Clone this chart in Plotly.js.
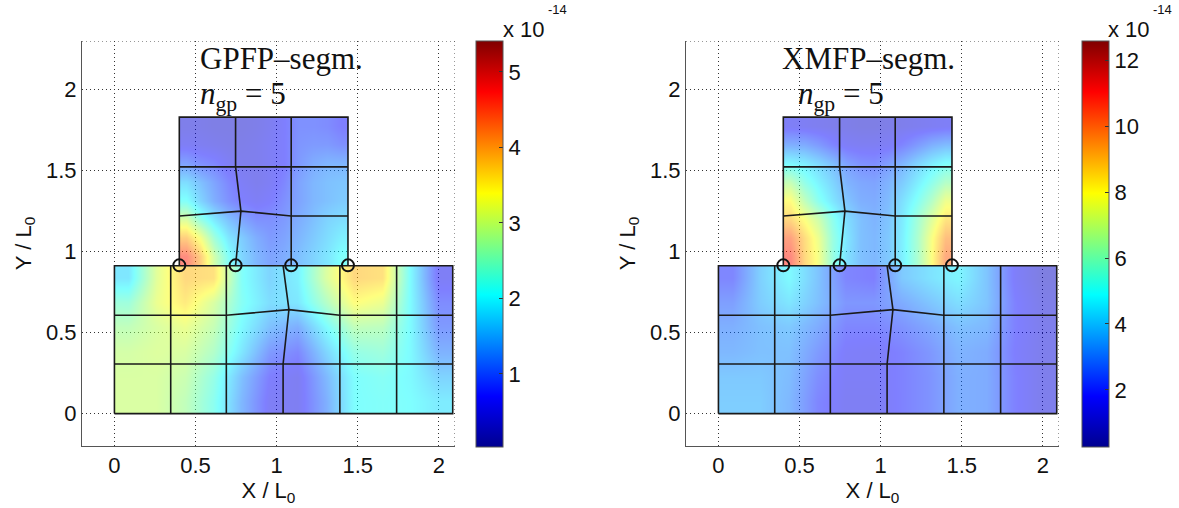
<!DOCTYPE html>
<html><head><meta charset="utf-8">
<script src="https://cdn.plot.ly/plotly-3.0.1.min.js"></script>
<style>html,body{margin:0;padding:0;background:#fff}</style></head>
<body><div id="chart" style="width:1179px;height:508px"></div>
<script>
// Cell edges of the sampled field
const lowerX = [0,0.174,0.348,0.521,0.695,0.869,1.043,1.216,1.39,1.564,1.738,1.912,2.086];
const lowerY = [0,0.152,0.305,0.457,0.61,0.762,0.915];
const upperX = [0.4,0.487,0.573,0.66,0.747,0.833,0.92,1.007,1.093,1.18,1.267,1.353,1.44];
const upperY = [0.915,1.029,1.144,1.258,1.372,1.487,1.601,1.716,1.83];

const gpfpLower = [
 [3.0,3.0,2.75,2.2,1.3,0.6,0.55,1.2,2.05,2.1,2.05,1.85],
 [3.0,3.0,2.85,2.3,1.4,0.7,0.55,1.3,2.05,2.15,2.0,1.6],
 [2.95,3.05,3.0,2.6,1.8,1.0,0.8,1.6,2.3,2.4,2.0,1.25],
 [2.75,3.0,3.2,2.8,2.0,1.4,1.2,2.0,2.75,2.7,2.0,1.0],
 [2.4,3.2,3.6,3.0,2.15,1.7,1.8,2.6,3.4,3.2,2.0,0.85],
 [1.8,3.1,3.8,3.7,2.1,1.6,1.9,3.0,3.8,3.7,2.0,0.6]];
const gpfpUpper = [
 [4.6,3.9,2.9,2.1,1.6,1.3,1.1,1.2,1.4,1.6,1.8,2.1],
 [3.9,3.3,2.4,1.8,1.5,1.2,1.0,1.1,1.3,1.5,1.7,1.9],
 [3.0,2.3,1.8,1.4,1.1,0.9,0.9,1.0,1.2,1.4,1.6,1.7],
 [2.1,1.6,1.2,0.9,0.7,0.6,0.7,0.9,1.1,1.3,1.4,1.5],
 [1.7,1.4,1.1,0.8,0.6,0.5,0.6,0.8,1.1,1.3,1.4,1.45],
 [1.1,0.9,0.8,0.6,0.5,0.5,0.6,0.7,1.0,1.2,1.3,1.3],
 [0.6,0.55,0.5,0.45,0.45,0.5,0.6,0.7,0.95,1.0,1.0,0.9],
 [0.45,0.45,0.4,0.4,0.4,0.45,0.55,0.7,0.9,0.9,0.85,0.7]];
const xmfpLower = [
 [3.7,3.7,3.2,2.0,1.5,1.5,1.9,2.3,3.0,2.9,1.9,1.3],
 [3.6,3.6,3.3,2.2,1.6,1.6,1.9,2.3,3.0,2.9,1.9,1.3],
 [3.2,3.4,3.4,2.5,1.7,1.6,1.9,2.4,3.1,2.9,1.8,1.3],
 [3.0,3.4,3.6,2.9,2.0,2.0,2.3,2.8,3.4,3.2,1.9,1.3],
 [2.6,3.7,4.3,3.4,2.4,2.4,2.9,3.5,4.1,3.5,1.9,1.2],
 [2.0,3.8,4.8,3.5,2.0,1.8,3.6,4.2,4.7,3.5,1.7,1.0]];
const xmfpUpper = [
 [10.8,8.9,7.7,5.6,4.2,3.4,3.2,3.6,4.6,6.0,7.9,10.0],
 [10.2,8.8,7.5,5.6,4.3,3.4,3.2,3.6,4.6,6.0,7.8,9.5],
 [8.9,7.9,6.8,5.3,4.1,3.4,3.1,3.5,4.5,5.8,7.2,8.6],
 [8.0,6.5,5.2,4.3,3.5,3.0,2.9,3.3,4.2,5.1,6.2,7.6],
 [6.6,5.4,4.6,3.9,3.1,2.8,2.7,3.1,3.7,4.5,5.3,6.2],
 [4.8,4.5,4.0,3.4,2.7,2.3,2.2,2.6,3.2,3.9,4.5,5.0],
 [3.0,2.9,2.5,2.0,1.6,1.5,1.5,1.6,2.0,2.5,3.0,3.3],
 [1.6,1.5,1.4,1.3,1.2,1.1,1.1,1.2,1.3,1.4,1.5,1.6]];

// Mesh lines, separated by nulls
const meshX = [0,2.086,2.086,0,0,null, 0.4,0.4,1.44,1.44,null,
 0,0.69,1.076,1.39,2.086,null, 0,2.086,null,
 0.347,0.347,null, 0.69,0.69,null, 1.04,1.04,1.076,1.04,null, 1.39,1.39,null, 1.74,1.74,null,
 0.4,1.44,null, 0.4,0.78,1.09,1.44,null,
 0.747,0.747,0.78,0.747,null, 1.09,1.09];
const meshY = [0,0,0.913,0.913,0,null, 0.913,1.83,1.83,0.913,null,
 0.607,0.607,0.642,0.607,0.607,null, 0.306,0.306,null,
 0,0.913,null, 0,0.913,null, 0,0.306,0.642,0.913,null, 0,0.913,null, 0,0.913,null,
 1.523,1.523,null, 1.22,1.25,1.22,1.22,null,
 1.83,1.523,1.25,0.915,null, 0.915,1.83];
const nodeX = [0.4,0.747,1.09,1.44];
const nodeY = [0.915,0.915,0.915,0.915];

const axisTicks = [0,0.5,1,1.5,2];
const axisTickText = ['0','0.5','1','1.5','2'];
const xRange = [-0.2,2.1];
const yRange = [-0.2,2.3];
const jet = [[0,'rgb(0,0,143)'],[0.125,'rgb(0,0,255)'],[0.375,'rgb(0,255,255)'],[0.625,'rgb(255,255,0)'],[0.875,'rgb(255,0,0)'],[1,'rgb(128,0,0)']];

const W=1179,H=508, plotTop=41, plotBottom=446;
const sans='"Liberation Sans",Arial,sans-serif', serif='"Liberation Serif",serif';
const ink='#111', dotted='1px,3px';

function panel(xa,ya,lower,upper,zmin,zmax,cbLeft,cbTicks){
  const base={type:'heatmap',xaxis:xa,yaxis:ya,colorscale:jet,zmin,zmax,zsmooth:'best',opacity:0.5,hoverinfo:'skip'};
  return [
   Object.assign({},base,{x:lowerX,y:lowerY,z:lower,showscale:true,colorbar:{
     x:cbLeft/W,xanchor:'left',xpad:0,ypad:0,y:(H-447)/H,yanchor:'bottom',len:406,lenmode:'pixels',
     thickness:27,thicknessmode:'pixels',outlinecolor:'#555',outlinewidth:1,
     tickvals:cbTicks,ticktext:cbTicks.map(String),ticks:'inside',ticklen:4,tickcolor:'#333',
     tickfont:{family:sans,size:22,color:ink}}}),
   Object.assign({},base,{x:upperX,y:upperY,z:upper,showscale:false}),
   {type:'scatter',mode:'lines',x:meshX,y:meshY,xaxis:xa,yaxis:ya,line:{color:'#1a1a1a',width:1.6},showlegend:false,hoverinfo:'skip'},
   {type:'scatter',mode:'markers',x:nodeX,y:nodeY,xaxis:xa,yaxis:ya,showlegend:false,hoverinfo:'skip',
    marker:{symbol:'circle-open',size:12,color:ink,line:{width:2,color:ink}}}
  ];
}
function ax(range,extra,title,standoff){
  return Object.assign({range,tickmode:'array',tickvals:axisTicks,ticktext:axisTickText,showgrid:true,gridcolor:'#333',griddash:dotted,gridwidth:1,
    zeroline:false,showline:true,linecolor:'#555',linewidth:1,ticks:'',tickfont:{family:sans,size:22,color:ink},
    title:{text:title,font:{family:sans,size:22,color:ink},standoff}},extra);
}
function edges(xa,ya){
  const l={color:'#333',width:1,dash:dotted};
  return [
   {type:'line',layer:'below',xref:xa,yref:ya,x0:xRange[0],x1:xRange[1],y0:yRange[1],y1:yRange[1],line:l},
   {type:'line',layer:'below',xref:xa,yref:ya,x0:xRange[1],x1:xRange[1],y0:yRange[0],y1:yRange[1],line:l}];
}
const data=[...panel('x','y',gpfpLower,gpfpUpper,0.03,5.41,476,[1,2,3,4,5]),
            ...panel('x2','y2',xmfpLower,xmfpUpper,0.27,12.58,1082,[2,4,6,8,10,12])];
const yDom=[(H-plotBottom)/H,(H-plotTop)/H];
function note(px,py,text,font,anchor){return {xref:'paper',yref:'paper',x:px/W,y:(H-py)/H,text,showarrow:false,xanchor:anchor||'left',yanchor:'middle',font,xshift:0};}
const titleFont={family:serif,size:31,color:ink};
const layout={width:W,height:H,autosize:false,margin:{l:0,r:0,t:0,b:0},paper_bgcolor:'#fff',plot_bgcolor:'#fff',showlegend:false,
  xaxis:ax(xRange,{domain:[82/W,455/W],anchor:'y'},'X / L<sub>0</sub>',2),
  yaxis:ax(yRange,{domain:yDom,anchor:'x'},'Y / L<sub>0</sub>',8),
  xaxis2:ax(xRange,{domain:[686/W,1059/W],anchor:'y2'},'X / L<sub>0</sub>',2),
  yaxis2:ax(yRange,{domain:yDom,anchor:'x2'},'Y / L<sub>0</sub>',8),
  shapes:[...edges('x','y'),...edges('x2','y2')],
  annotations:[
   note(198,58,'GPFP–segm.',titleFont),
   note(198,96,'<i>n</i><sub>gp</sub> = 5',titleFont),
   note(780,58,'XMFP–segm.',titleFont),
   note(796,96,'<i>n</i><sub>gp</sub> = 5',titleFont),
   note(501,29,'x 10',{family:sans,size:22,color:ink}),
   note(546,10,'-14',{family:sans,size:13,color:ink}),
   note(1106,29,'x 10',{family:sans,size:22,color:ink}),
   note(1151,10,'-14',{family:sans,size:13,color:ink})
  ]};
Plotly.newPlot('chart',data,layout,{displayModeBar:false,staticPlot:true});
</script></body></html>
